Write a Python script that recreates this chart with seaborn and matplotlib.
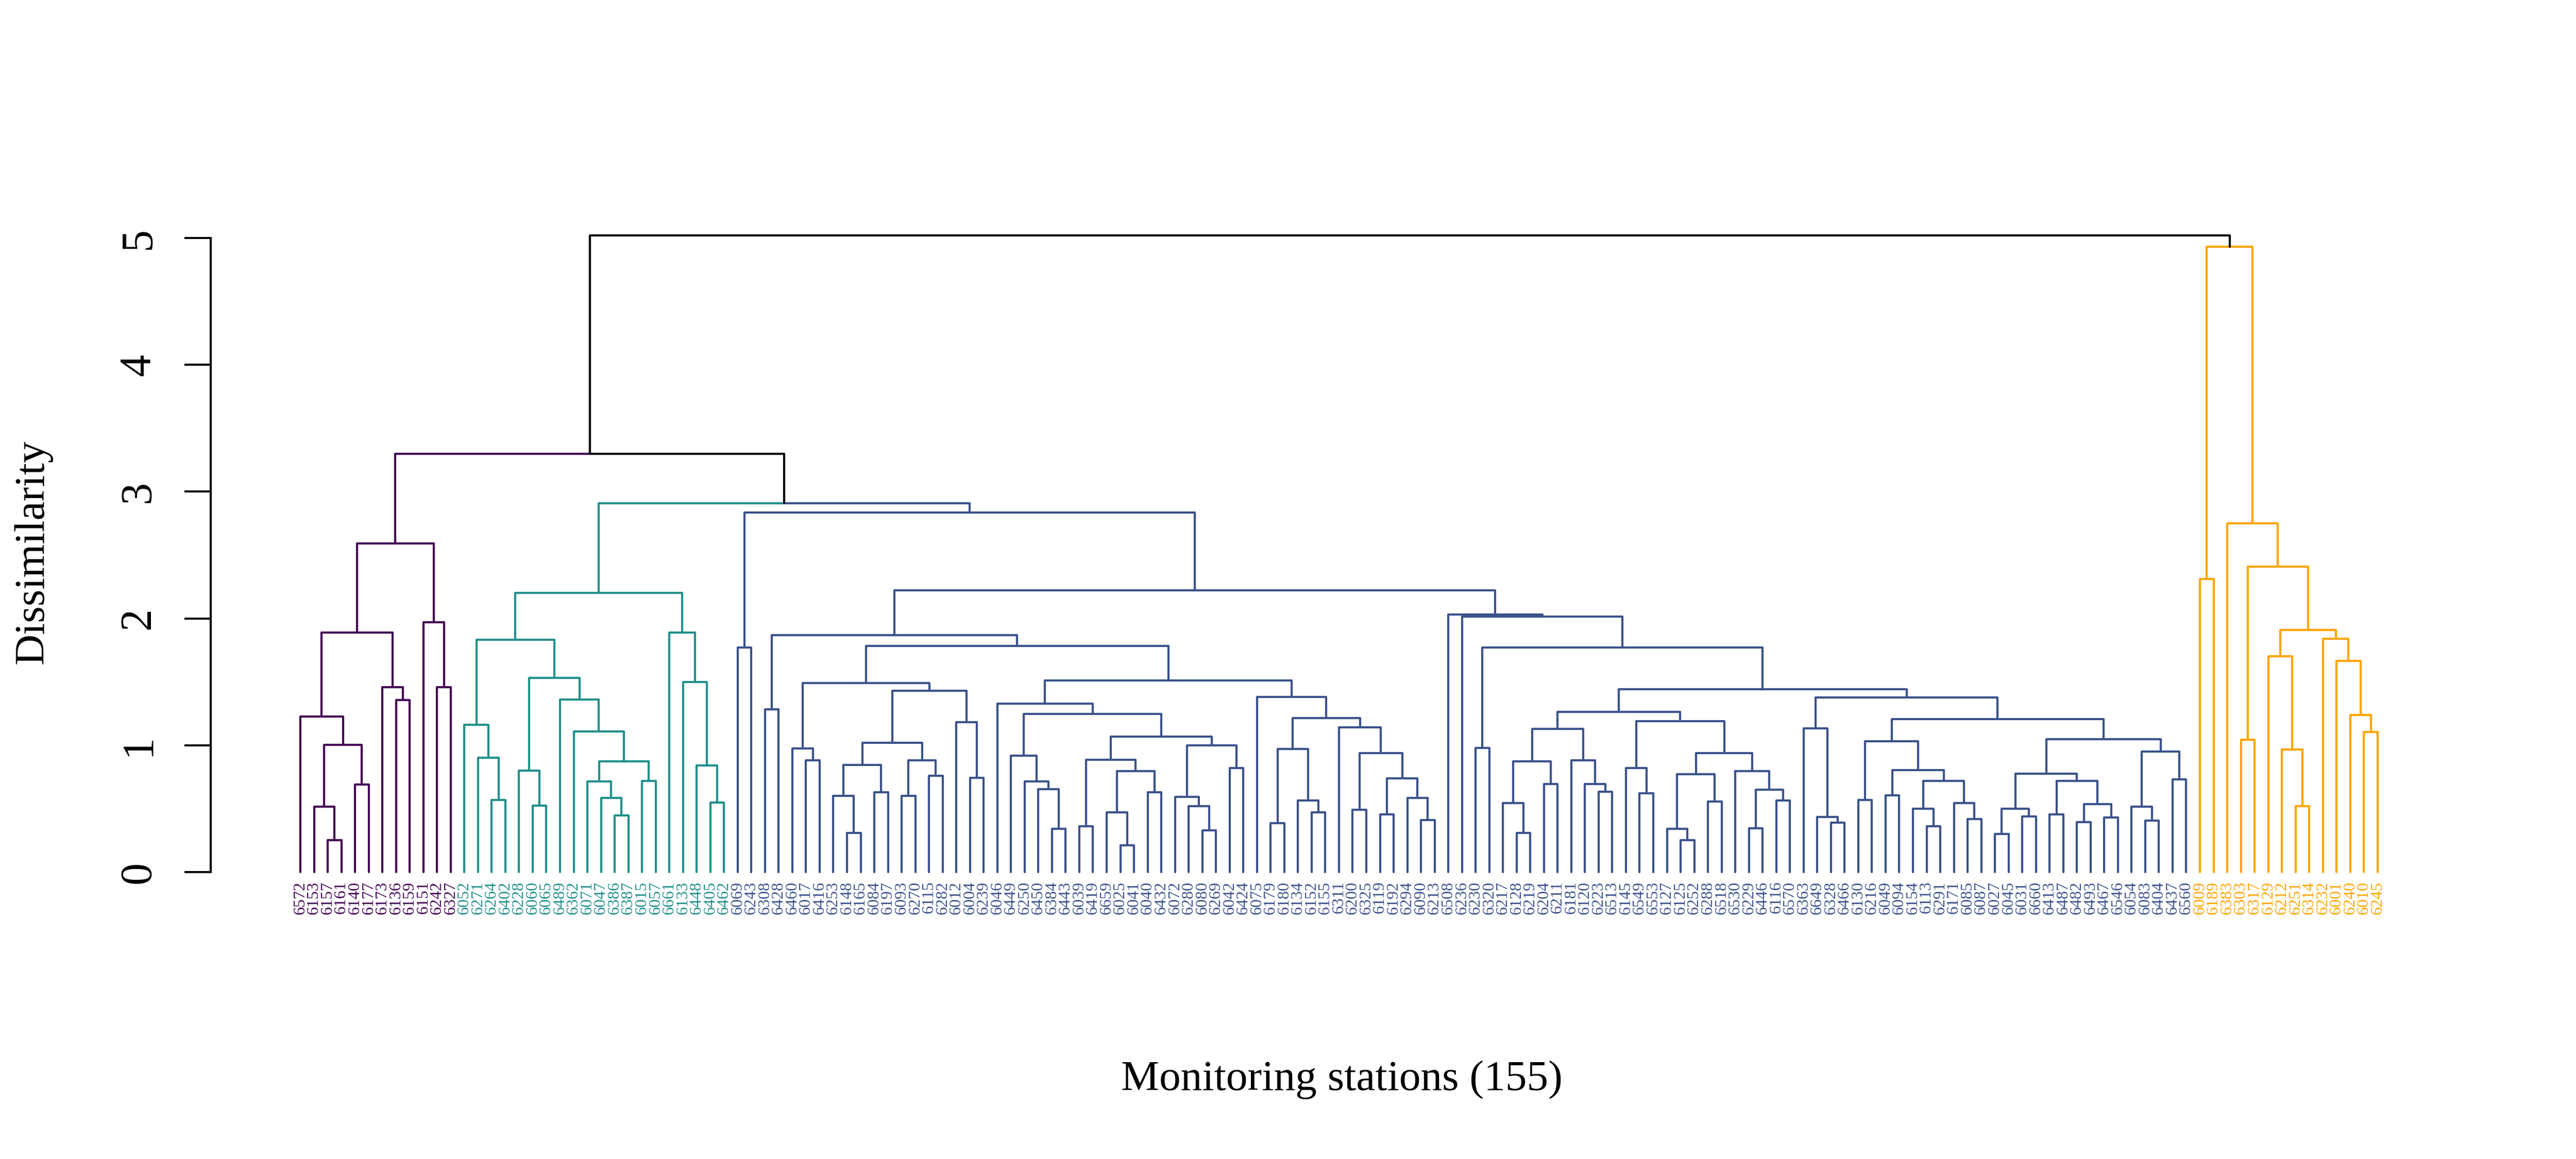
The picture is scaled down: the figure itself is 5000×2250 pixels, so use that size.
import matplotlib
matplotlib.use("Agg")
import matplotlib.pyplot as plt
import seaborn as sns
import pandas as pd

# clusters as nested (merge height, left, right); leaves are station ids
purple_tree = (2.59,
    (1.89,
        (1.225, "6572", (1.005, (0.515, "6153", (0.25, "6157", "6161")), (0.69, "6140", "6177"))),
        (1.46, "6173", (1.355, "6136", "6159"))),
    (1.97, "6151", (1.46, "6242", "6327")))

teal_tree = (2.20,
    (1.83,
        (1.16, "6052", (0.90, "6271", (0.57, "6264", "6402"))),
        (1.53,
            (0.80, "6228", (0.525, "6060", "6065")),
            (1.36, "6489", (1.11, "6362",
                (0.875, (0.715, "6071", (0.585, "6047", (0.445, "6386", "6387"))),
                        (0.72, "6015", "6057")))))),
    (1.89, "6661", (1.50, "6133", (0.84, "6448", (0.55, "6405", "6462")))))

blue_p = (1.49,
    (0.975, "6460", (0.88, "6017", "6416")),
    (1.43,
        (1.02,
            (0.845, (0.60, "6253", (0.31, "6148", "6165")), (0.63, "6084", "6197")),
            (0.88, (0.60, "6093", "6270"), (0.76, "6115", "6282"))),
        (1.18, "6012", (0.745, "6004", "6239"))))

blue_c = (1.33, "6046",
    (1.245,
        (0.92, "6449", (0.715, "6250", (0.655, "6450", (0.34, "6384", "6443")))),
        (1.07,
            (0.885, (0.36, "6039", "6419"),
                    (0.795, (0.47, "6659", (0.21, "6025", "6041")), (0.63, "6040", "6432"))),
            (1.0, (0.595, "6072", (0.52, "6280", (0.33, "6080", "6269"))), (0.82, "6042", "6424")))))

blue_d = (1.38, "6075",
    (1.215,
        (0.97, (0.385, "6179", "6180"), (0.565, "6134", (0.47, "6152", "6155"))),
        (1.14, "6311",
            (0.94, (0.49, "6200", "6325"),
                   (0.74, (0.455, "6119", "6192"), (0.585, "6294", (0.41, "6090", "6213")))))))

blue_n1 = (1.265,
    (1.13,
        (0.875, (0.545, "6217", (0.31, "6128", "6219")), (0.695, "6204", "6211")),
        (0.88, "6181", (0.695, "6120", (0.635, "6223", "6513")))),
    (1.19,
        (0.82, "6145", (0.62, "6549", "6553")),
        (0.94,
            (0.77, (0.34, "6127", (0.25, "6125", "6252")), (0.555, "6288", "6518")),
            (0.795, "6530", (0.65, (0.345, "6229", "6446"), (0.565, "6116", "6570"))))))

blue_n2 = (1.375,
    (1.135, "6363", (0.435, "6649", (0.39, "6328", "6466"))),
    (1.205,
        (1.03, (0.57, "6130", "6216"),
            (0.805, (0.605, "6049", "6094"),
                (0.72, (0.50, "6154", (0.36, "6113", "6291")), (0.545, "6171", (0.42, "6085", "6087"))))),
        (1.05,
            (0.775,
                (0.50, (0.30, "6027", "6045"), (0.44, "6031", "6660")),
                (0.72, (0.455, "6413", "6487"),
                       (0.535, (0.395, "6482", "6493"), (0.43, "6467", "6546")))),
            (0.95, (0.515, "6054", (0.405, "6083", "6404")), (0.73, "6437", "6560")))))

blue_tree = (2.835,
    (1.77, "6069", "6243"),
    (2.22,
        (1.87, (1.285, "6308", "6428"), (1.785, blue_p, (1.51, blue_c, blue_d))),
        (2.03, "6508", (2.015, "6236", (1.77, (0.98, "6230", "6320"), (1.44, blue_n1, blue_n2))))))

orange_tree = (4.93,
    (2.31, "6009", "6189"),
    (2.75, "6383",
        (2.41, (1.045, "6303", "6317"),
            (1.91,
                (1.70, "6129", (0.965, "6212", (0.52, "6251", "6314"))),
                (1.84, "6232", (1.665, "6001", (1.24, "6240", (1.105, "6010", "6245"))))))))

cluster_trees = [purple_tree, teal_tree, blue_tree, orange_tree]
cluster_colors = ["#440154", "#21908C", "#3B528B", "#FFA500"]
stem_colors = ["#440154", "#21908C", "#3B528B", "black"]
teal_blue_height = 2.91
upper_height = 3.30
root_height = 5.02

# ---- layout: leaves at 1..n, node x = midpoint of its two children ----
edges = []
leaves = []


def add_edge(x_top, h_top, x_bot, h_bot, color):
    k = len(edges)
    edges.extend([(k, x_top, h_top, color), (k, x_bot, h_top, color), (k, x_bot, h_bot, color)])


def walk(node, color):
    if isinstance(node, str):
        leaves.append((len(leaves) + 1, node, color))
        return len(leaves), 0.0
    h, left, right = node
    kids = [walk(left, color), walk(right, color)]
    x = (kids[0][0] + kids[1][0]) / 2
    for xc, hc in kids:
        add_edge(x, h, xc, hc, color)
    return x, h


tops = [walk(t, c) for t, c in zip(cluster_trees, cluster_colors)]


def join(h, a, b, col_a, col_b):
    x = (a[0] + b[0]) / 2
    add_edge(x, h, a[0], a[1], col_a)
    add_edge(x, h, b[0], b[1], col_b)
    return x, h


tb = join(teal_blue_height, tops[1], tops[2], stem_colors[1], stem_colors[2])
ptb = join(upper_height, tops[0], tb, stem_colors[0], "black")
join(root_height, ptb, tops[3], "black", stem_colors[3])

edge_df = pd.DataFrame(edges, columns=["edge", "x", "y", "color"])

# ---- plot ----
sns.set_theme(style="white")
plt.rcParams["font.family"] = ["Liberation Serif", "DejaVu Serif"]
plt.rcParams["text.color"] = "black"
plt.rcParams["axes.labelcolor"] = "black"
plt.rcParams["ytick.color"] = "black"

W, H = 5000, 2250
fig = plt.figure(figsize=(50, 22.5), dpi=100)
ax_left, ax_right, ax_bottom, ax_top = 409, 4800, 1742, 400
ax = fig.add_axes([ax_left / W, 1 - ax_bottom / H, (ax_right - ax_left) / W, (ax_bottom - ax_top) / H])

palette = {c: c for c in edge_df["color"].unique()}
sns.lineplot(data=edge_df, x="x", y="y", units="edge", estimator=None, hue="color",
             palette=palette, sort=False, legend=False, linewidth=3.0, ax=ax)

for x, name, color in leaves:
    ax.text(x, -0.072, name, rotation=90, ha="center", va="top", fontsize=23, color=color)

ax.set_xlim(-5.56, 159.98)
ax.set_ylim(-0.199, 5.252)
ax.set_xticks([])
ax.set_yticks(range(6))
ax.tick_params(axis="y", length=37, width=2.9, direction="out", pad=35,
               labelsize=62, labelrotation=90, left=True, color="black", labelcolor="black")
for lab in ax.get_yticklabels():
    lab.set_va("center")
for s in ["top", "right", "bottom"]:
    ax.spines[s].set_visible(False)
ax.spines["left"].set_bounds(0, 5)
ax.spines["left"].set_linewidth(2.9)
ax.spines["left"].set_color("black")

ax.set_ylabel("Dissimilarity", fontsize=60, va="center")
ax.yaxis.set_label_coords((64 - ax_left) / (ax_right - ax_left), 0.5)
ax.set_xlabel("Monitoring stations (155)", fontsize=60, va="center")
ax.xaxis.set_label_coords(0.5, (ax_bottom - 2096) / (ax_bottom - ax_top))

fig.savefig("out.png", dpi=100)
